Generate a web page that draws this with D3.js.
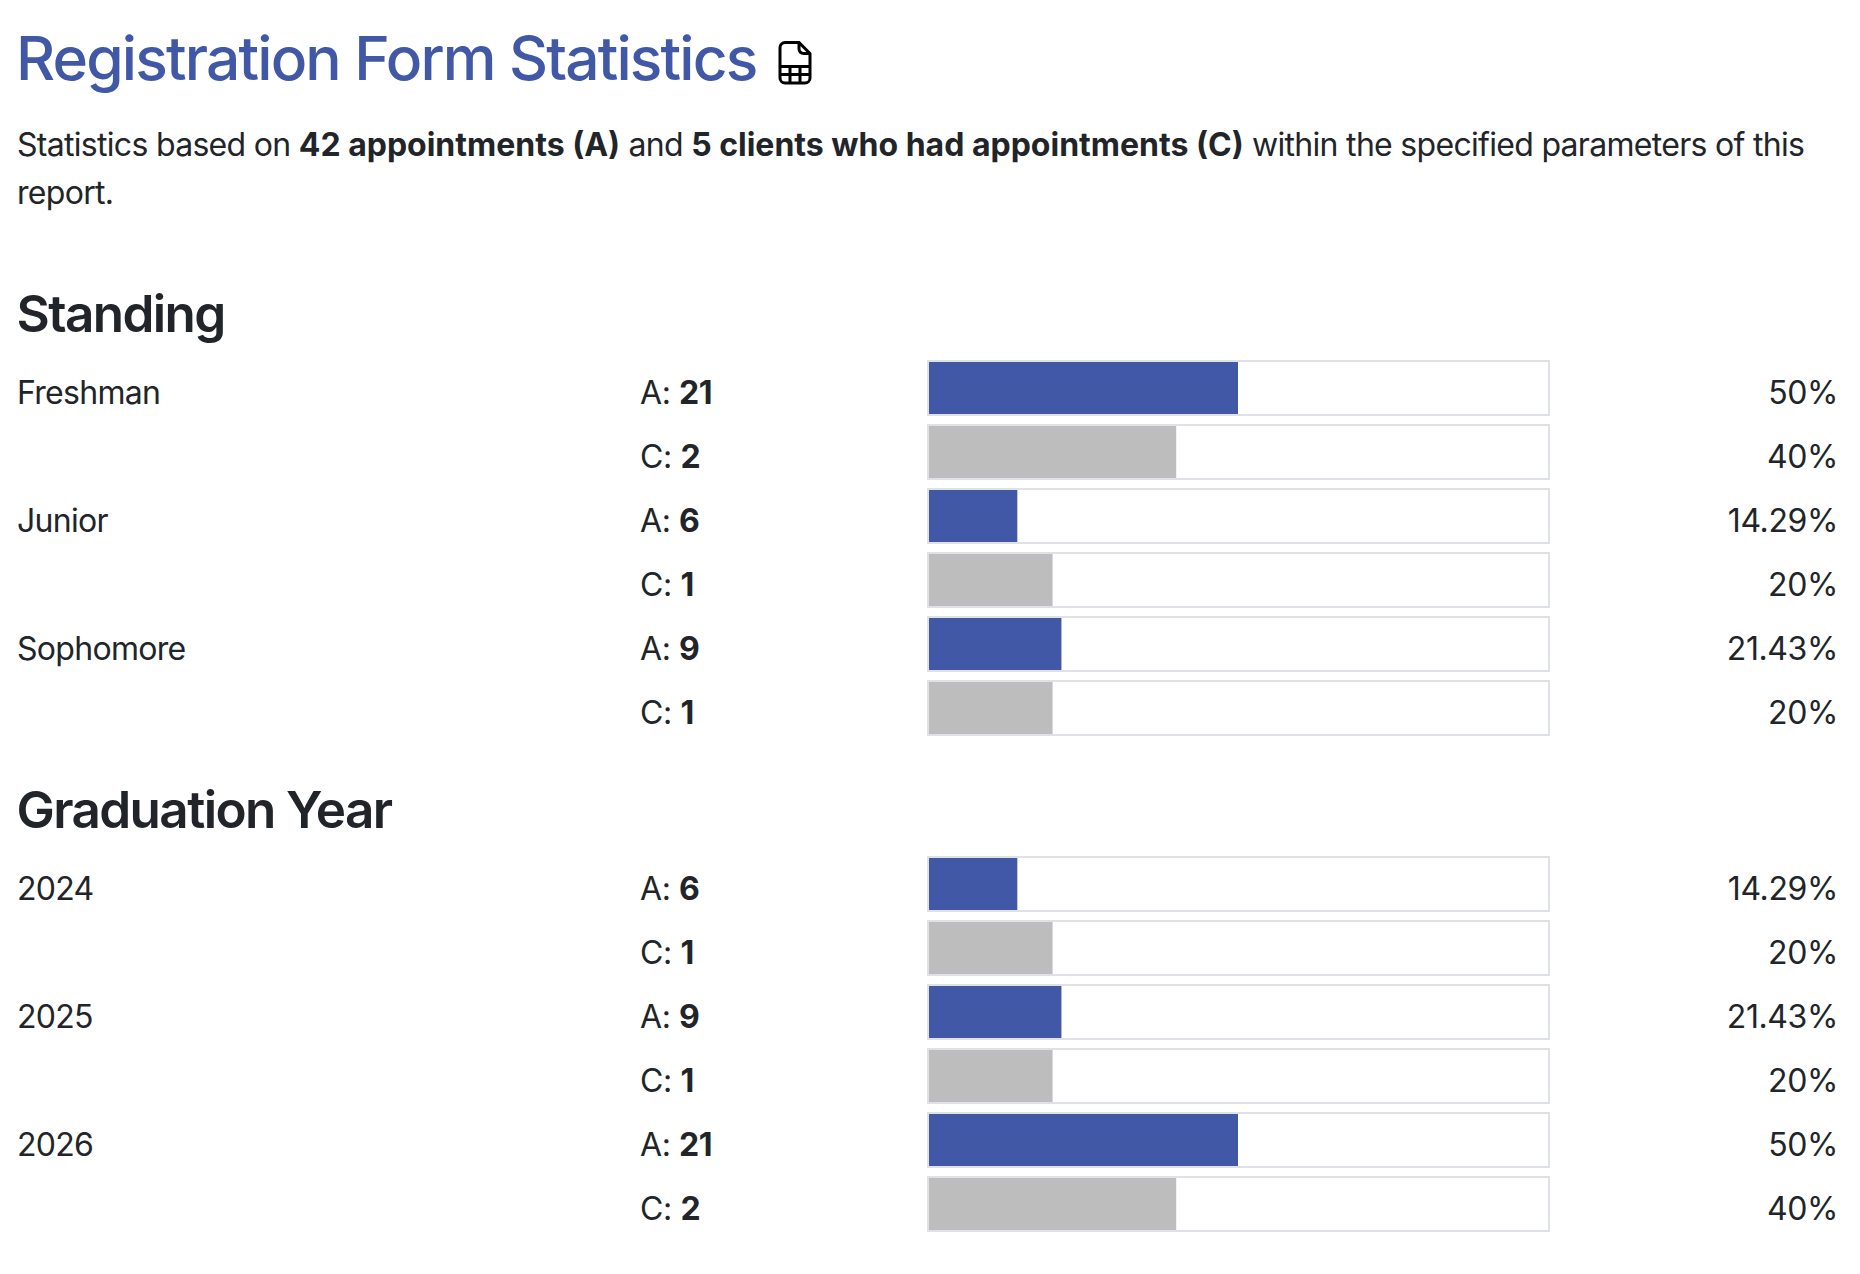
<!DOCTYPE html>
<html><head><meta charset="utf-8">
<script src="https://cdnjs.cloudflare.com/ajax/libs/d3/7.8.5/d3.min.js"></script>
<style>html,body{margin:0;padding:0;background:#fff}svg{display:block}text{font-family:Inter,sans-serif;fill:#212529}</style>
</head><body><svg id="c" width="1860" height="1274"></svg>
<script>
const sections = ["Standing","Graduation Year"];
const standingCategories = ["Freshman","Junior","Sophomore"];
const standingAppointments = [21,6,9];
const standingClients = [2,1,1];
const standingAppointmentPct = [50,14.29,21.43];
const standingClientPct = [40,20,20];
const yearCategories = ["2024","2025","2026"];
const yearAppointments = [6,9,21];
const yearClients = [1,1,2];
const yearAppointmentPct = [14.29,21.43,50];
const yearClientPct = [20,20,40];

const svg = d3.select("#c");
const BLUE="#4158a6", GRAY="#bdbdbd", BORDER="#dee2e6";
const BODY=32, BODY_LS="-0.4px", NAME_LS="-0.7px";
const x = d3.scaleLinear().domain([0,100]).range([929,1547]);

svg.append("text").attr("x",16).attr("y",80).attr("font-size",60.5).attr("font-weight",500).attr("letter-spacing","-1.85px").style("fill",BLUE).text("Registration Form Statistics");

const icon = svg.append("g").attr("transform","translate(778,41)").attr("fill","none").attr("stroke","#000").attr("stroke-width",3);
icon.append("path").attr("d","M7 1.5H21L32 12.5V37a5 5 0 0 1-5 5H7a5 5 0 0 1-5-5V6.5a5 5 0 0 1 5-5Z");
icon.append("path").attr("d","M21 1.5V8a4.5 4.5 0 0 0 4.5 4.5H32M2 25.5H32M2 33.5H32M12 25.5V42M22 25.5V42");

function rich(y, parts){
  const t = svg.append("text").attr("x",17).attr("y",y).attr("font-size",BODY);
  parts.forEach(([s,b])=>t.append("tspan").attr("font-weight",b?700:400).attr("letter-spacing",b?"0px":NAME_LS).text(s));
}
rich(156,[["Statistics based on ",0],["42 appointments (A)",1],[" and ",0],["5 clients who had appointments (C)",1],[" within the specified parameters of this",0]]);
rich(204,[["report.",0]]);

function section(title, titleY, top, cats, a, c, ap, cp){
  svg.append("text").attr("x",16.5).attr("y",titleY).attr("font-size",51.2).attr("font-weight",600).attr("letter-spacing","-1.6px").text(title);
  const rows = cats.flatMap((n,i)=>[
    {name:n,key:"A",count:a[i],pct:ap[i],color:BLUE},
    {name:"",key:"C",count:c[i],pct:cp[i],color:GRAY}]);
  const y = d3.scaleBand().domain(d3.range(rows.length)).range([top,top+64*rows.length]);
  const g = svg.append("g").selectAll("g").data(rows).join("g").attr("transform",(d,i)=>`translate(0,${y(i)})`);
  g.append("rect").attr("x",x(0)-1).attr("y",1).attr("width",x(100)-x(0)+3).attr("height",54).attr("fill","#fff").attr("stroke",BORDER).attr("stroke-width",2);
  g.append("rect").attr("x",x(0)).attr("y",2).attr("width",d=>x(d.pct)-x(0)).attr("height",52).attr("fill",d=>d.color);
  g.append("text").attr("x",17).attr("y",44).attr("font-size",BODY).attr("letter-spacing",NAME_LS).text(d=>d.name);
  const l = g.append("text").attr("x",640).attr("y",44).attr("font-size",BODY).attr("letter-spacing",BODY_LS);
  l.append("tspan").text(d=>d.key+": ");
  l.append("tspan").attr("font-weight",700).text(d=>d.count);
  g.append("text").attr("x",1838).attr("y",44).attr("text-anchor","end").attr("font-size",BODY).attr("letter-spacing",BODY_LS).text(d=>d.pct+"%");
}
section(sections[0],332,360,standingCategories,standingAppointments,standingClients,standingAppointmentPct,standingClientPct);
section(sections[1],828,856,yearCategories,yearAppointments,yearClients,yearAppointmentPct,yearClientPct);
</script></body></html>
